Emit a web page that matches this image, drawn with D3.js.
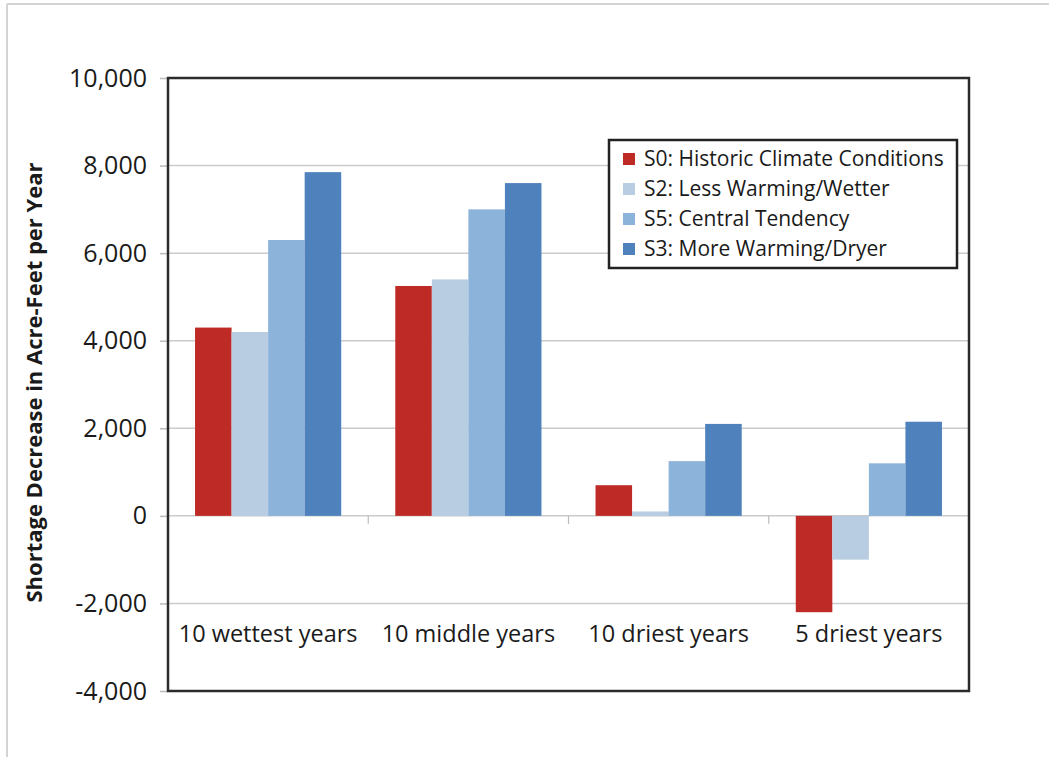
<!DOCTYPE html>
<html>
<head>
<meta charset="utf-8">
<script src="https://cdn.jsdelivr.net/npm/d3@7"></script>
<style>
  body { margin: 0; background: #fff; }
  text { font-family: "Open Sans", sans-serif; fill: #1a1a1a; }
</style>
</head>
<body>
<div id="chart"></div>
<script>
// data
const categories = ["10 wettest years", "10 middle years", "10 driest years", "5 driest years"];
const seriesNames = ["S0: Historic Climate Conditions", "S2: Less Warming/Wetter", "S5: Central Tendency", "S3: More Warming/Dryer"];
const s0 = [4300, 5250, 700, -2200];
const s2 = [4200, 5400, 100, -1000];
const s5 = [6300, 7000, 1250, 1200];
const s3 = [7850, 7600, 2100, 2150];
const yTicks = [-4000, -2000, 0, 2000, 4000, 6000, 8000, 10000];
const colors = ["#be2a26", "#b8cce2", "#8cb3da", "#4f81bc"];

const seriesValues = [s0, s2, s5, s3];

const W = 1049, H = 757;
const margin = { top: 78, right: 80, bottom: 66, left: 168 };
const width = W - margin.left - margin.right;
const height = H - margin.top - margin.bottom;

const root = d3.select("#chart").append("svg")
    .attr("width", W)
    .attr("height", H);

// faint outer frame (top + left)
root.append("line").attr("x1", 7).attr("y1", 4).attr("x2", W).attr("y2", 4)
    .attr("stroke", "#d4d4d4").attr("stroke-width", 2);
root.append("line").attr("x1", 7).attr("y1", 4).attr("x2", 7).attr("y2", H)
    .attr("stroke", "#d4d4d4").attr("stroke-width", 2);

const svg = root.append("g")
    .attr("transform", `translate(${margin.left},${margin.top})`);

const x0 = d3.scaleBand()
    .domain(categories)
    .range([0, width])
    .paddingInner(0.27)
    .paddingOuter(0.135);

const x1 = d3.scaleBand()
    .domain(d3.range(seriesNames.length))
    .range([0, x0.bandwidth()]);

const y = d3.scaleLinear()
    .domain([-4000, 10000])
    .range([height, 0]);

// gridlines
svg.selectAll(".grid")
    .data(yTicks.filter(d => d !== -4000 && d !== 10000))
    .enter()
    .append("line")
        .attr("class", "grid")
        .attr("x1", 0)
        .attr("x2", width)
        .attr("y1", d => y(d))
        .attr("y2", d => y(d))
        .attr("stroke", "#cbcbcb")
        .attr("stroke-width", 1.5);

// y axis (plain hyphen for negatives, like the original)
const fmt = d3.format(",");
svg.append("g")
    .call(d3.axisLeft(y).tickValues(yTicks).tickSize(8).tickPadding(13)
        .tickFormat(d => fmt(d).replace("\u2212", "-")))
    .call(g => g.select(".domain").remove())
    .call(g => g.selectAll("line").attr("stroke", "#bbbbbb").attr("stroke-width", 1.5))
    .call(g => g.selectAll("text").style("font-size", "25px").attr("fill", "#1a1a1a"));

// bars
const groups = svg.selectAll(".group")
    .data(categories)
    .enter()
    .append("g")
        .attr("transform", d => `translate(${x0(d)},0)`);

groups.selectAll("rect")
    .data((d, i) => seriesValues.map((vals, k) => ({ k, v: vals[i] })))
    .enter()
    .append("rect")
        .attr("x", d => x1(d.k))
        .attr("width", x1.bandwidth())
        .attr("y", d => y(Math.max(0, d.v)))
        .attr("height", d => Math.abs(y(d.v) - y(0)))
        .attr("fill", d => colors[d.k]);

// category separator ticks on the zero line
svg.selectAll(".sep")
    .data(categories.slice(1))
    .enter()
    .append("line")
        .attr("x1", d => x0(d) - x0.step() * x0.paddingInner() / 2)
        .attr("x2", d => x0(d) - x0.step() * x0.paddingInner() / 2)
        .attr("y1", y(0))
        .attr("y2", y(0) + 8)
        .attr("stroke", "#bbbbbb")
        .attr("stroke-width", 1.2);

// category labels
svg.selectAll(".catLabel")
    .data(categories)
    .enter()
    .append("text")
        .attr("x", d => x0(d) + x0.bandwidth() / 2)
        .attr("y", y(-2000) + 39)
        .attr("text-anchor", "middle")
        .style("font-size", "23.5px")
        .text(d => d);

// plot frame
svg.append("rect")
    .attr("x", 0).attr("y", 0)
    .attr("width", width).attr("height", height)
    .attr("fill", "none")
    .attr("stroke", "#2b2b2b")
    .attr("stroke-width", 2.5);

// y title
root.append("text")
    .attr("transform", `translate(42,${margin.top + height / 2 - 2}) rotate(-90)`)
    .attr("text-anchor", "middle")
    .style("font-size", "22px")
    .style("font-weight", "bold")
    .text("Shortage Decrease in Acre-Feet per Year");

// legend
const lg = root.append("g").attr("transform", "translate(609,140)");
lg.append("rect")
    .attr("width", 348).attr("height", 128)
    .attr("fill", "#fff")
    .attr("stroke", "#222")
    .attr("stroke-width", 2.5);

const items = lg.selectAll(".item")
    .data(seriesNames)
    .enter()
    .append("g")
        .attr("transform", (d, i) => `translate(14,${19 + i * 30})`);

items.append("rect")
    .attr("x", 0).attr("y", -6)
    .attr("width", 12).attr("height", 12)
    .attr("fill", (d, i) => colors[i]);

items.append("text")
    .attr("x", 21)
    .attr("y", 7)
    .style("font-size", "21px")
    .text(d => d);
</script>
</body>
</html>
